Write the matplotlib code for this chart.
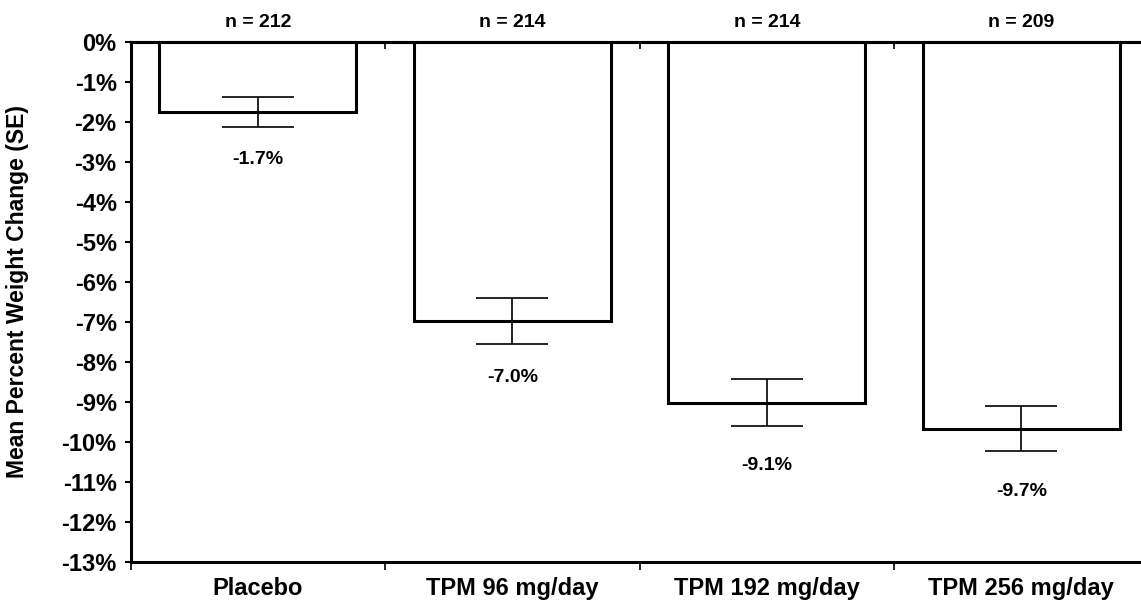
import matplotlib
matplotlib.use("Agg")
import matplotlib.pyplot as plt
import numpy as np

plt.rcParams['font.family'] = ['Liberation Sans', 'DejaVu Sans']
plt.rcParams['font.weight'] = 'bold'

# data
groups = ['Placebo', 'TPM 96 mg/day', 'TPM 192 mg/day', 'TPM 256 mg/day']
n_subjects = [212, 214, 214, 209]
mean_change = [-1.74, -6.98, -9.02, -9.67]
se = [0.37, 0.58, 0.58, 0.57]
value_labels = ['-1.7%', '-7.0%', '-9.1%', '-9.7%']
label_y = [-2.94, -8.38, -10.59, -11.24]
yticks = list(range(0, -14, -1))

fig = plt.figure(figsize=(11.41, 6.05), dpi=100)
ax = fig.add_axes([0.1144, 0.0716, 0.8856, 0.8585])

x = np.arange(len(groups))
ax.bar(x, mean_change, width=0.774, color='white', edgecolor='black',
       linewidth=2.2, zorder=2)
ax.errorbar(x, mean_change, yerr=se, fmt='none', ecolor='black',
            elinewidth=1.2, capsize=26, capthick=1.2, zorder=3)

for xi, txt, yy in zip(x, value_labels, label_y):
    ax.text(xi, yy, txt, ha='center', va='center', fontsize=14, fontweight='bold')

for xi, n in zip(x, n_subjects):
    ax.text(xi, 0.5, 'n = %d' % n, ha='center', va='center', fontsize=14,
            fontweight='bold', clip_on=False)

ax.set_xlim(-0.5, 3.47)
ax.set_ylim(-13, 0)
ax.set_yticks(yticks)
ax.set_yticklabels(['%d%%' % t for t in yticks], fontsize=17, fontweight='bold')
ax.tick_params(axis='y', direction='out', length=4, width=1.5, pad=6)

# category boundaries as major ticks, names as minor ticks
ax.set_xticks([-0.5, 0.5, 1.5, 2.5])
ax.set_xticklabels([])
ax.set_xticks(x, minor=True)
ax.set_xticklabels(groups, minor=True, fontsize=17, fontweight='bold')
ax.tick_params(axis='x', which='major', direction='out', length=6, width=1.2)
ax.tick_params(axis='x', which='minor', length=0, pad=11)

ax.set_ylabel('Mean Percent Weight Change (SE)', fontsize=16.5, fontweight='bold')
ax.yaxis.set_label_coords(-0.1005, 0.52)

ax.spines['right'].set_visible(False)
for s in ['left', 'bottom', 'top']:
    ax.spines[s].set_linewidth(2.2)

# small ticks hanging from the 0% line
sec = ax.secondary_xaxis('top')
sec.set_xticks([0.5, 1.5, 2.5])
sec.set_xticklabels([])
sec.tick_params(direction='in', length=5, width=1.2)
sec.spines['top'].set_linewidth(2.2)

fig.savefig('out.png', dpi=100)
